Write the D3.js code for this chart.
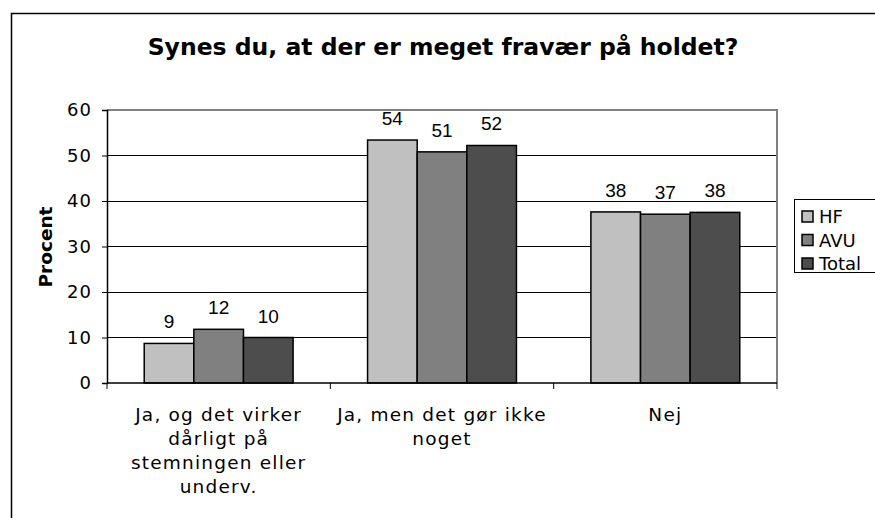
<!DOCTYPE html>
<html><head><meta charset="utf-8">
<script src="https://cdn.jsdelivr.net/npm/d3@7"></script>
<style>body{margin:0;background:#fff}svg{display:block}</style>
</head><body>
<script>
const categories = [["Ja, og det virker","dårligt på","stemningen eller","underv."],["Ja, men det gør ikke","noget"],["Nej"]];
const seriesNames = ["HF","AVU","Total"];
const HF = [8.7, 53.4, 37.6];
const AVU = [11.8, 50.8, 37.1];
const Total = [10.0, 52.2, 37.5];
const labelsHF = ["9","54","38"], labelsAVU = ["12","51","37"], labelsTotal = ["10","52","38"];
const yTicks = [0,10,20,30,40,50,60];
const colors = ["#c0c0c0","#808080","#4d4d4d"];
const title = "Synes du, at der er meget fravær på holdet?";

const W = 875, H = 518;
const svg = d3.select("body").append("svg").attr("width", W).attr("height", H);
const font = "DejaVu Sans, Verdana, sans-serif";
const afont = "Liberation Sans, Arial, sans-serif";

svg.append("rect").attr("x",11.5).attr("y",13.5).attr("width",1000).attr("height",1000)
  .attr("fill","#fff").attr("stroke","#000").attr("stroke-width",1.5);

const L = 107, R = 777, T = 110, B = 383;
const x0 = d3.scaleBand().domain(d3.range(3)).range([L,R]).paddingInner(0).paddingOuter(0);
const x1 = d3.scaleBand().domain(d3.range(3)).range([0, x0.bandwidth()]).paddingInner(0).paddingOuter(0.75);
const y = d3.scaleLinear().domain([0,60]).range([B,T]);

// gridlines
svg.append("g").selectAll("line").data(yTicks.filter(d=>d>0)).join("line")
  .attr("x1",L).attr("x2",R).attr("y1",d=>y(d)).attr("y2",d=>y(d))
  .attr("stroke","#000").attr("stroke-width",1).attr("shape-rendering","crispEdges");
// plot border (top, right)
svg.append("path").attr("d",`M${L},${T}H${R}V${B}`).attr("fill","none")
  .attr("stroke","#808080").attr("stroke-width",1.5).attr("shape-rendering","crispEdges");

const series = [HF, AVU, Total];
const labels = [labelsHF, labelsAVU, labelsTotal];
const data = [];
series.forEach((s,si)=>s.forEach((v,ci)=>data.push({si,ci,v,lab:labels[si][ci]})));

svg.append("g").selectAll("rect").data(data).join("rect")
  .attr("x",d=>x0(d.ci)+x1(d.si)).attr("width",x1.bandwidth())
  .attr("y",d=>y(d.v)).attr("height",d=>y(0)-y(d.v))
  .attr("fill",d=>colors[d.si]).attr("stroke","#000").attr("stroke-width",1.5);

svg.append("g").selectAll("text").data(data).join("text")
  .attr("x",d=>x0(d.ci)+x1(d.si)+x1.bandwidth()/2).attr("y",d=>y(d.v)-15)
  .attr("text-anchor","middle").attr("font-family",afont).attr("font-size",19).text(d=>d.lab);

// y axis
const yAxis = d3.axisLeft(y).tickValues(yTicks).tickSize(5).tickPadding(10);
const gy = svg.append("g").attr("transform",`translate(${L},0)`).call(yAxis);
gy.select(".domain").attr("stroke","#000").attr("stroke-width",1.5);
gy.selectAll(".tick line").attr("stroke","#000");
gy.selectAll(".tick text").attr("font-family",font).attr("font-size",18)
  .attr("letter-spacing","1px").attr("fill","#000");

// x axis
const gx = svg.append("g").attr("transform",`translate(0,${B})`);
gx.append("line").attr("x1",L).attr("x2",R).attr("stroke","#000").attr("stroke-width",1.5);
gx.selectAll("line.t").data([0,1,2,3]).join("line").attr("class","t")
  .attr("x1",d=>L+d*x0.bandwidth()).attr("x2",d=>L+d*x0.bandwidth()).attr("y1",0).attr("y2",6)
  .attr("stroke","#000");
const ct = gx.selectAll("text").data(categories).join("text")
  .attr("text-anchor","middle").attr("font-family",font).attr("font-size",18.5)
  .attr("letter-spacing","1.2px");
ct.each(function(lines,i){
  d3.select(this).selectAll("tspan").data(lines).join("tspan")
    .attr("x",x0(i)+x0.bandwidth()/2).attr("y",(d,j)=>38+j*24).text(d=>d);
});

// title
svg.append("text").attr("x",443).attr("y",55).attr("text-anchor","middle")
  .attr("font-family",font).attr("font-weight","bold").attr("font-size",23.5).text(title);
// y title
svg.append("text").attr("transform","translate(52,247) rotate(-90)").attr("text-anchor","middle")
  .attr("font-family",font).attr("font-weight","bold").attr("font-size",18.5).text("Procent");

// legend
const lg = svg.append("g");
lg.append("rect").attr("x",794.5).attr("y",199.5).attr("width",100).attr("height",73)
  .attr("fill","#fff").attr("stroke","#000").attr("stroke-width",1);
seriesNames.forEach((n,i)=>{
  lg.append("rect").attr("x",802).attr("y",211+i*23.5).attr("width",11).attr("height",11)
    .attr("fill",colors[i]).attr("stroke","#000").attr("stroke-width",1.5);
  lg.append("text").attr("x",819).attr("y",223+i*23.5).attr("font-family",font)
    .attr("font-size",18).text(n);
});
</script>
</body></html>
